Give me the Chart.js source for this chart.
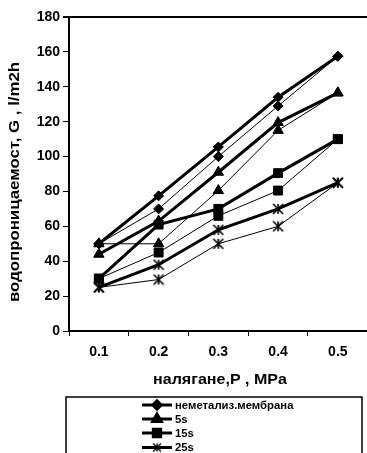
<!DOCTYPE html>
<html>
<head>
<meta charset="utf-8">
<script src="https://cdn.jsdelivr.net/npm/chart.js@4/dist/chart.umd.min.js"></script>
<style>
  html, body { margin:0; padding:0; background:#fff; overflow:hidden; }
  #wrap { width:375px; height:453px; }
</style>
</head>
<body>
<div id="wrap"><canvas id="c" width="375" height="453"></canvas></div>
<script>
// ── Data ─────────────────────────────────────────────────
const pressures = ["0.1","0.2","0.3","0.4","0.5"];
const yTicks    = [0,20,40,60,80,100,120,140,160,180];

// thick line = rising pressure, thin line = falling pressure
const memUp    = [50, 77.5, 105.5, 134, 157.5];
const memDown  = [50, 70, 100, 129, 157.5];
const s5Up     = [44, 63, 91, 119.5, 136.5];
const s5Down   = [50, 50, 80.5, 115, 136.5];
const s15Up    = [30, 61, 70, 90.5, 110];
const s15Down  = [30, 45, 66, 80.5, 110];
const s25Up    = [25, 38, 58, 70, 85];
const s25Down  = [25, 29.5, 50, 60, 85];

const legendNames = ["неметализ.мембрана","5s","15s","25s"];

const FONT = "'Liberation Sans', Arial, sans-serif";

// ── "Ж" shaped marker (X with a vertical bar) ────────────
function starMarker(size, lw) {
  const cv = document.createElement("canvas");
  cv.width = size; cv.height = size;
  const g = cv.getContext("2d");
  g.strokeStyle = "#000"; g.lineWidth = lw;
  const m = size/2, r = size/2 - 1;
  g.beginPath();
  g.moveTo(m-r, m-r); g.lineTo(m+r, m+r);
  g.moveTo(m+r, m-r); g.lineTo(m-r, m+r);
  g.moveTo(m, m-r);   g.lineTo(m, m+r);
  g.stroke();
  return cv;
}
const STAR    = starMarker(12, 1.6);
const STAR_SM = starMarker(10, 1.4);

const styles = [
  { pt:"rectRot",  r:5,   lr:4.2 },
  { pt:"triangle", r:6,   lr:5 },
  { pt:"rect",     r:6.3, lr:5.2 },
  { pt:STAR,       r:6,   lr:5, small:STAR_SM }
];

function ds(data, st, thick, label) {
  return {
    label, data,
    borderColor:"#000", backgroundColor:"#000",
    borderWidth: thick ? 3 : 1,
    pointStyle: st.pt, pointRadius: st.r, pointHoverRadius: st.r,
    pointBackgroundColor:"#000", pointBorderColor:"#000", pointBorderWidth:1,
    tension:0, fill:false
  };
}

const datasets = [
  ds(s25Down, styles[3], false, "_"), ds(s25Up, styles[3], true, legendNames[3]),
  ds(s15Down, styles[2], false, "_"), ds(s15Up, styles[2], true, legendNames[2]),
  ds(s5Down,  styles[1], false, "_"), ds(s5Up,  styles[1], true, legendNames[1]),
  ds(memDown, styles[0], false, "_"), ds(memUp, styles[0], true, legendNames[0])
];

// text stretched to a given length (the original font is wide)
function stretchedText(ctx, txt, x, y, len, rot) {
  ctx.save();
  ctx.translate(x, y);
  if (rot) ctx.rotate(rot);
  const w = ctx.measureText(txt).width;
  ctx.scale(len / w, 1);
  ctx.fillText(txt, 0, 0);
  ctx.restore();
}

// ── Titles, top border, boxed legend ─────────────────────
const decor = {
  id:"decor",
  afterDraw(chart) {
    const ctx = chart.ctx, a = chart.chartArea;
    ctx.save();
    // top border of plot area
    ctx.strokeStyle = "#000"; ctx.lineWidth = 2;
    ctx.beginPath(); ctx.moveTo(a.left - 6, a.top); ctx.lineTo(a.right, a.top); ctx.stroke();

    ctx.fillStyle = "#000";
    ctx.font = "bold 14px " + FONT;
    ctx.textAlign = "center"; ctx.textBaseline = "middle";
    stretchedText(ctx, "налягане,P , MPa", 220, 380, 134, 0);
    stretchedText(ctx, "водопроницаемост, G , l/m2h", 15, 182, 240, -Math.PI/2);

    // legend box
    ctx.lineWidth = 1.5; ctx.strokeStyle = "#000";
    ctx.strokeRect(66, 397, 296, 70);
    const rows = [405, 419, 433, 447.5];
    ctx.font = "bold 11px " + FONT;
    ctx.textAlign = "left";
    legendNames.forEach((n, i) => {
      const y = rows[i];
      ctx.lineWidth = 3;
      ctx.beginPath(); ctx.moveTo(142, y); ctx.lineTo(172, y); ctx.stroke();
      const st = styles[i];
      Chart.helpers.drawPoint(ctx, { pointStyle: st.small || st.pt, radius: st.lr, rotation:0, borderWidth:1 }, 157, y);
      stretchedText(ctx, n, 175, y + 0.5, ctx.measureText(n).width * 1.03, 0);
    });
    ctx.restore();
  }
};

new Chart(document.getElementById("c"), {
  type:"line",
  data:{ labels: pressures, datasets },
  options:{
    responsive:false, animation:false,
    layout:{ padding:{ top:17, right:6, left:0, bottom:0 } },
    plugins:{ legend:{ display:false }, tooltip:{ enabled:false } },
    scales:{
      x:{
        offset:true,
        grid:{ offset:true, drawOnChartArea:false, color:"#000", tickLength:5, lineWidth:1 },
        border:{ color:"#000", width:2 },
        ticks:{ color:"#000", font:{ family:FONT, size:14, weight:"bold" }, padding:8, maxRotation:0 },
        afterFit(s){ s.height = 122; }
      },
      y:{
        min:0, max:180,
        afterBuildTicks(s){ s.ticks = yTicks.map(v => ({ value:v })); },
        grid:{ drawOnChartArea:false, color:"#000", tickLength:6, lineWidth:1 },
        border:{ color:"#000", width:2 },
        ticks:{ color:"#000", font:{ family:FONT, size:14, weight:"bold" }, padding:3 },
        afterFit(s){ s.width = 69; }
      }
    }
  },
  plugins:[decor]
});
</script>
</body>
</html>
